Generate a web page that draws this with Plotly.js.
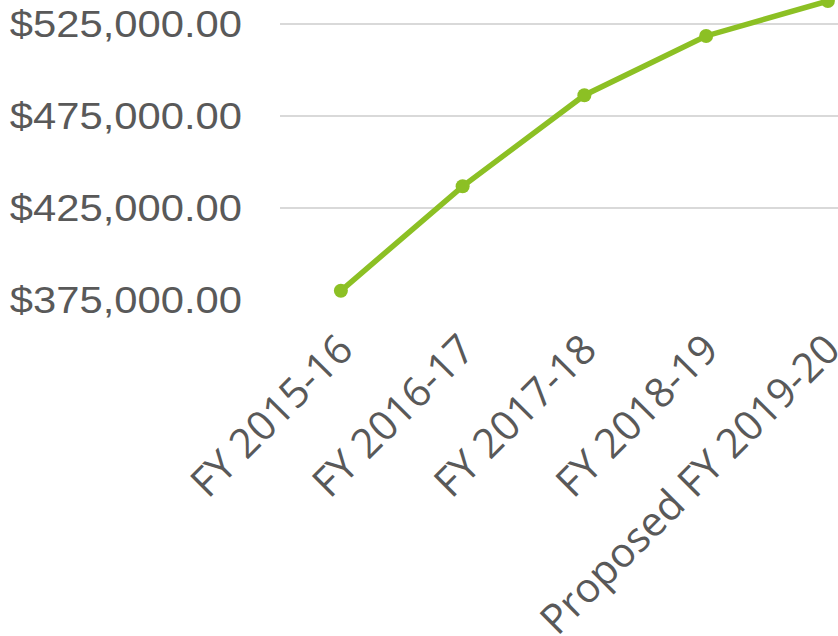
<!DOCTYPE html>
<html>
<head>
<meta charset="utf-8">
<script src="https://cdn.plot.ly/plotly-3.0.1.min.js"></script>
<style>
  html, body { margin: 0; padding: 0; background: #ffffff; }
  #chart { width: 838px; height: 636px; }
</style>
</head>
<body>
<div id="chart"></div>
<script>
// ---- data ----
const categories = ["FY 2015-16", "FY 2016-17", "FY 2017-18", "FY 2018-19", "Proposed FY 2019-20"];
const budget = [380000, 436800, 486300, 518500, 537500];
const yTickValues = [375000, 425000, 475000, 525000];

const trace = {
  type: "scatter",
  mode: "lines+markers",
  x: categories,
  y: budget,
  line: { color: "#8cc024", width: 5.5 },
  marker: { color: "#8cc024", size: 14 },
  cliponaxis: false,
  hoverinfo: "x+y"
};

const layout = {
  width: 838,
  height: 636,
  margin: { l: 280, r: 0, t: 0, b: 336, pad: 0 },
  paper_bgcolor: "#ffffff",
  plot_bgcolor: "#ffffff",
  showlegend: false,
  xaxis: {
    type: "category",
    range: [-0.5, 4.083],
    showgrid: false,
    zeroline: false,
    showline: false,
    ticks: "",
    tickangle: -45,
    ticklabelstandoff: 16,
    automargin: false,
    tickfont: { family: "Open Sans, Noto Sans, sans-serif", size: 41, color: "#595959" }
  },
  yaxis: {
    range: [375000, 538050],
    tickvals: yTickValues,
    tickformat: "$,.2f",
    showgrid: true,
    gridcolor: "#d9d9d9",
    gridwidth: 1.5,
    zeroline: false,
    showline: false,
    ticks: "",
    ticklabelstandoff: 37,
    automargin: false,
    tickfont: { family: "Liberation Sans, Arial, sans-serif", size: 36, color: "#595959" }
  }
};

function widenYLabels(gd) {
  const texts = gd.querySelectorAll(".ytick text");
  texts.forEach(function (t) {
    if (!t.hasAttribute("data-orig-tf")) {
      t.setAttribute("data-orig-tf", t.getAttribute("transform") || "");
    }
    const orig = t.getAttribute("data-orig-tf");
    t.setAttribute("transform", orig);
    const bb = t.getBBox();
    const ax = bb.x + bb.width;
    const ay = bb.y + bb.height / 2;
    const s = 1.16;
    t.setAttribute("transform",
      (orig ? orig + " " : "") +
      "translate(" + ax + "," + ay + ") scale(" + s + ",1) translate(" + (-ax) + "," + (-ay) + ")");
  });
}

const gd = document.getElementById("chart");
Plotly.newPlot(gd, [trace], layout, { displayModeBar: false, responsive: false, staticPlot: true })
  .then(function () {
    widenYLabels(gd);
    gd.on("plotly_afterplot", function () { widenYLabels(gd); });
  });
</script>
</body>
</html>
